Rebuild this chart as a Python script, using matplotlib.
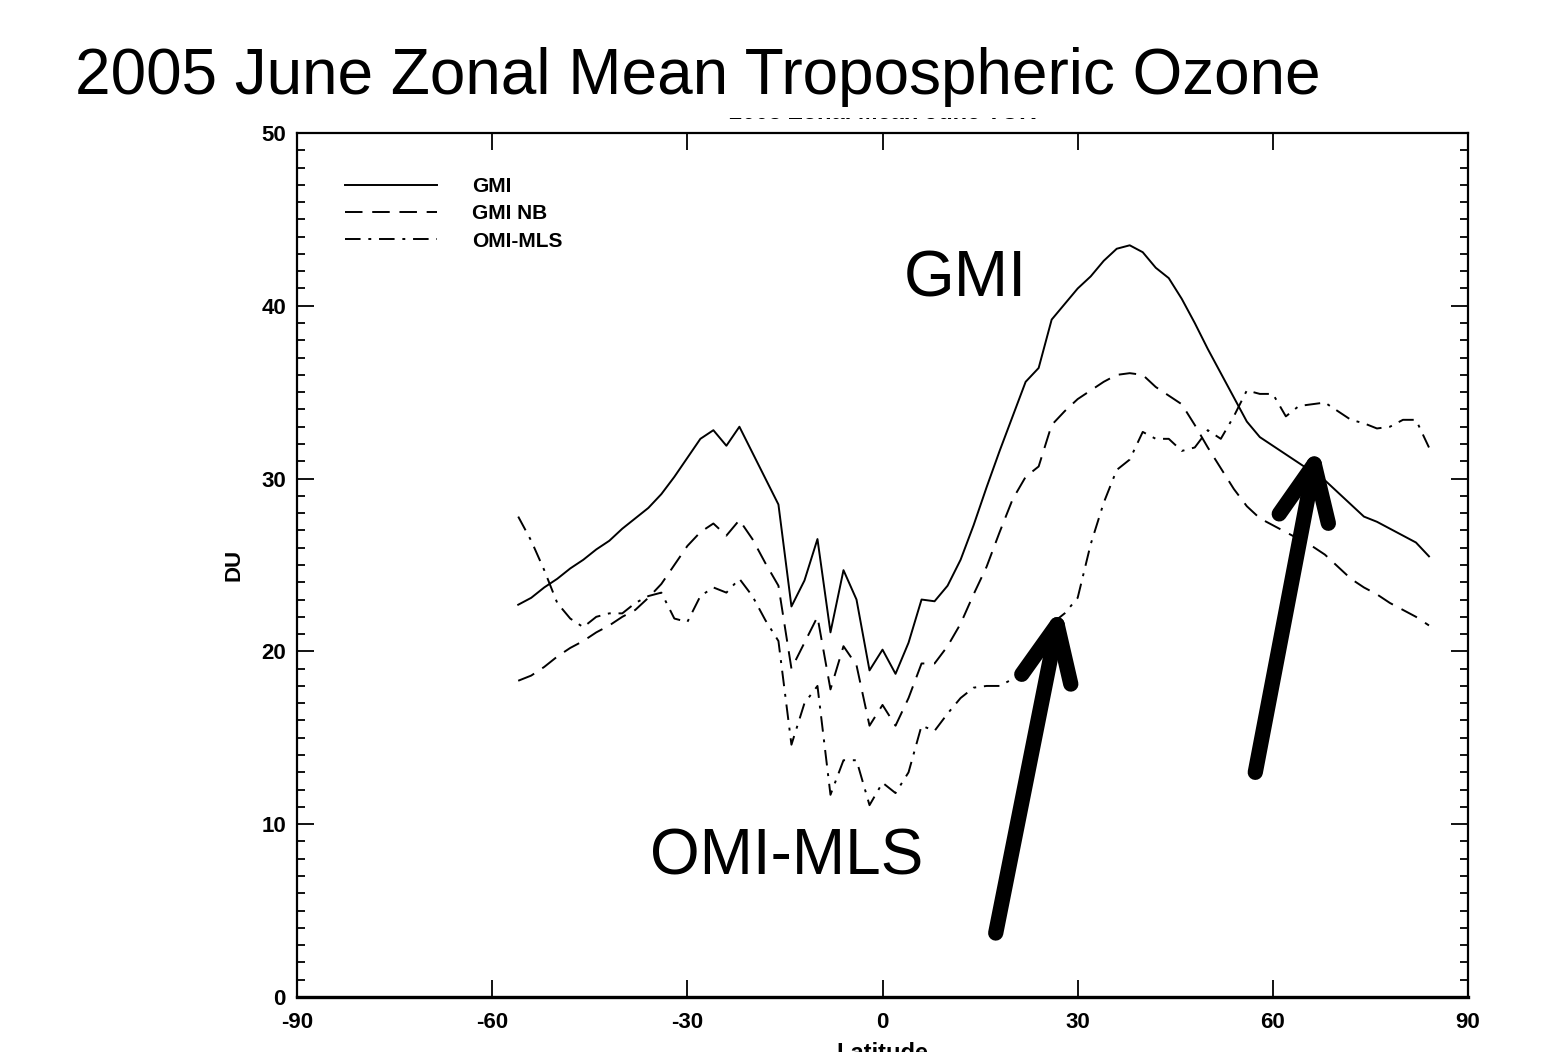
import numpy as np
import matplotlib
matplotlib.use('Agg')
import matplotlib.pyplot as plt
from matplotlib.patches import Rectangle

# latitude grid, 2 deg steps
lat = np.arange(-56, 86, 2)

gmi = [22.7, 23.1, 23.7, 24.2, 24.8, 25.3, 25.9, 26.4, 27.1, 27.7,
       28.3, 29.1, 30.1, 31.2, 32.3, 32.8, 31.9, 33.0, 31.5, 30.0,
       28.5, 22.6, 24.1, 26.5, 21.1, 24.7, 23.0, 18.9, 20.1, 18.7,
       20.5, 23.0, 22.9, 23.8, 25.3, 27.3, 29.5, 31.6, 33.6, 35.6,
       36.4, 39.2, 40.1, 41.0, 41.7, 42.6, 43.3, 43.5, 43.1, 42.2,
       41.6, 40.4, 39.0, 37.5, 36.1, 34.7, 33.3, 32.4, 31.9, 31.4,
       30.9, 30.4, 29.9, 29.2, 28.5, 27.8, 27.5, 27.1, 26.7, 26.3,
       25.5]
gmi_nb = [18.3, 18.6, 19.1, 19.7, 20.2, 20.6, 21.1, 21.5, 22.0, 22.4,
          23.1, 23.9, 25.0, 26.1, 26.9, 27.4, 26.7, 27.6, 26.5, 25.1,
          23.8, 19.0, 20.5, 22.0, 17.8, 20.3, 19.2, 15.7, 16.9, 15.7,
          17.3, 19.3, 19.3, 20.3, 21.6, 23.3, 24.9, 26.9, 28.8, 30.1,
          30.7, 33.1, 33.9, 34.6, 35.1, 35.6, 36.0, 36.1, 36.0, 35.3,
          34.8, 34.3, 33.1, 31.8, 30.6, 29.4, 28.4, 27.7, 27.3, 26.9,
          26.5, 26.1, 25.6, 24.9, 24.2, 23.7, 23.3, 22.8, 22.4, 22.0,
          21.5]
omi_mls = [27.8, 26.4, 24.7, 22.8, 21.9, 21.4, 22.0, 22.2, 22.2, 22.8,
           23.2, 23.4, 21.9, 21.7, 23.2, 23.7, 23.4, 24.2, 23.2, 21.8,
           20.6, 14.6, 17.0, 18.0, 11.7, 13.7, 13.7, 11.1, 12.4, 11.8,
           13.0, 15.7, 15.4, 16.4, 17.3, 17.9, 18.0, 18.0, 18.4, 18.8,
           20.4, 21.6, 22.2, 23.1, 26.2, 28.6, 30.5, 31.1, 32.7, 32.3,
           32.3, 31.6, 31.8, 32.8, 32.3, 33.6, 35.1, 34.9, 34.9, 33.6,
           34.2, 34.3, 34.4, 33.9, 33.4, 33.2, 32.9, 33.0, 33.4, 33.4,
           31.8]

xticks = [-90, -60, -30, 0, 30, 60, 90]
yticks = [0, 10, 20, 30, 40, 50]

plt.rcParams['font.family'] = ['Liberation Sans', 'DejaVu Sans']
plt.rcParams['axes.unicode_minus'] = False

fig = plt.figure(figsize=(15.43, 10.52), dpi=100)
ax = fig.add_axes([0.1925, 0.0523, 0.7589, 0.8213])

lw = 1.4
ax.plot(lat, gmi, 'k-', lw=lw, label='GMI')
ax.plot(lat, gmi_nb, 'k', ls=(0, (9, 5)), lw=lw, label='GMI NB')
ax.plot(lat, omi_mls, 'k', ls=(0, (8, 4, 1.5, 4)), lw=lw, label='OMI-MLS')

ax.set_xlim(-90, 90)
ax.set_ylim(0, 50)
ax.set_xticks(xticks)
ax.set_yticks(yticks)
ax.set_yticks(np.arange(0, 51, 1), minor=True)
ax.tick_params(which='major', direction='in', length=12, width=1.3,
               top=True, right=True, labelsize=16, pad=8)
ax.tick_params(axis='x', pad=11)
ax.tick_params(which='minor', direction='in', length=6, width=1.3,
               right=True)
for lab in ax.get_xticklabels() + ax.get_yticklabels():
    lab.set_fontweight('bold')
for s in ax.spines.values():
    s.set_linewidth(1.6)
ax.spines['bottom'].set_linewidth(2.4)

ax.set_ylabel('DU', fontsize=16, fontweight='bold', labelpad=12)
ax.set_xlabel('Latitude', fontsize=17, fontweight='bold', labelpad=6)
ax.set_title('2005 Zonal Mean June TOR', fontsize=17, fontweight='bold', pad=10)

leg = ax.legend(loc='upper left', bbox_to_anchor=(0.041, 0.949), frameon=False,
                borderpad=0, borderaxespad=0, handlelength=4.4,
                handletextpad=1.7, labelspacing=0.4,
                prop={'size': 15, 'weight': 'bold'})

# slide title covers the plot title
fig.patches.append(Rectangle((0, 1 - 118 / 1052), 1, 118 / 1052,
                             transform=fig.transFigure, fc='white', ec='none', zorder=2))
fig.text(0.0486, 0.911, '2005 June Zonal Mean Tropospheric Ozone', fontsize=46,
         ha='left', va='baseline', zorder=3)

ax.text(12.8, 41.5, 'GMI', fontsize=47, ha='center', va='center')
ax.text(-14.8, 8.1, 'OMI-MLS', fontsize=46, ha='center', va='center')

# arrows
akw = dict(arrowstyle='->,head_length=4.0,head_width=1.8', lw=11, color='k',
           shrinkA=0, shrinkB=0, capstyle='round', joinstyle='round')
ax.annotate('', xy=(27.4, 22.6), xytext=(17.4, 3.7),
            arrowprops=akw)
ax.annotate('', xy=(66.9, 31.9), xytext=(57.3, 13.0),
            arrowprops=akw)

fig.savefig('out.png', dpi=100)
